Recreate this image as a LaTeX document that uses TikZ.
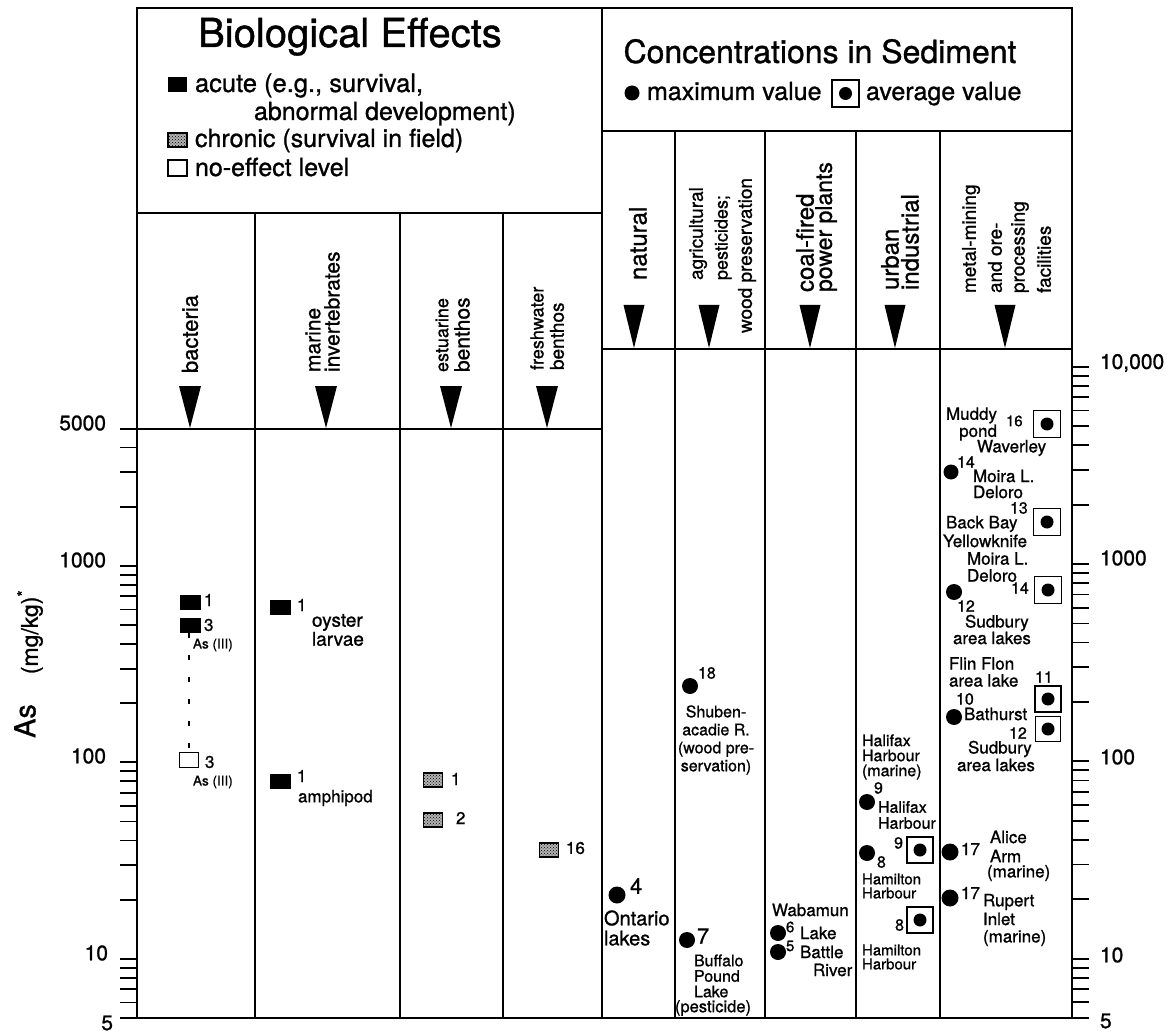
\documentclass[tikz,border=0pt]{standalone}
\usepackage{fontspec}
\setmainfont{TeX Gyre Heros}[FakeBold=1]
\usetikzlibrary{patterns}
\newcommand\fsz[2]{\fontsize{#1}{#2}\selectfont}
\begin{document}
\begin{tikzpicture}[x=1pt,y=-1pt,
 every node/.style={inner sep=0pt,outer sep=0pt},
 frm/.style={line width=2.2pt},
 dv/.style={line width=2pt},
 tk/.style={line width=1.8pt},
 acute/.style={rectangle,fill=black,minimum width=21pt,minimum height=15pt},
 chronic/.style={rectangle,draw=black,line width=1.5pt,fill=black!30,postaction={pattern=crosshatch dots},minimum width=19pt,minimum height=14pt},
 noeff/.style={rectangle,draw=black,line width=1.4pt,fill=white,minimum width=19pt,minimum height=15pt},
 maxd/.style={circle,fill=black,minimum size=16pt},
 avg/.style={rectangle,draw=black,line width=1.7pt,minimum size=26pt,path picture={\fill[black] (path picture bounding box.center) circle (6.5pt);}},
 hd/.style={rotate=90,anchor=west},
 lb/.style={anchor=west,font=\fsz{17}{16}},
 num/.style={anchor=west,font=\fsz{17}{17}},
 axl/.style={font=\fsz{21}{21}}
]
\fill[white] (0,0) rectangle (1168,1035);
\useasboundingbox (0,0) rectangle (1168,1035);

% frame
\draw[frm] (137,8) rectangle (1072,1018);
\draw[frm] (602,8) -- (602,1018);
\draw[dv] (137,213) -- (602,213);
\draw[dv] (602,131) -- (1072,131);
\draw[dv] (120,429) -- (602,429);
\draw[dv] (602,349) -- (1072,349);
\foreach \x in {255,400,503} \draw[dv] (\x,213) -- (\x,1018);
\foreach \x in {675,765,856,940} \draw[dv] (\x,131) -- (\x,1018);

% axis ticks
\foreach \v in {5000,4000,3000,2000,1000,900,800,700,600,500,400,300,200,100,90,80,70,60,50,40,30,20,10,9,8,7,6,5}
 {\pgfmathsetmacro\yy{1018-196.5*log10(\v/5)}\draw[tk] (120,\yy) -- (137,\yy);}
\foreach \v in {10000,9000,8000,7000,6000,5000,4000,3000,2000,1000,900,800,700,600,500,400,300,200,100,90,80,70,60,50,40,30,20,10,9,8,7,6,5}
 {\pgfmathsetmacro\yy{1018-197.3*log10(\v/5)}\draw[tk] (1072,\yy) -- (1089,\yy);}

% axis labels
\node[axl,anchor=east] (l5000) at (106,423) {5000};
\node[axl,anchor=east] (l1000) at (106,560) {1000};
\node[axl,anchor=east] (l100) at (106,756) {100};
\node[axl,anchor=east] (l10) at (108,953) {10};
\node[axl,anchor=east] (l5) at (113,1023) {5};
\node[axl,anchor=west] (r10000) at (1100,363) {10,000};
\node[axl,anchor=west] (r1000) at (1100,558) {1000};
\node[axl,anchor=west] (r100) at (1100,757) {100};
\node[axl,anchor=west] (r10) at (1100,955) {10};
\node[axl,anchor=west] (r5) at (1100,1021) {5};
\node[rotate=90,font=\fsz{29}{29}] (yas) at (25,721) {As};
\node[rotate=90,font=\fsz{23}{23}] (yunit) at (30,632) {(mg/kg)\textsuperscript{*}};

% header titles
\node[anchor=base,font=\fsz{40}{40}] (tbio) at (350,47) {Biological Effects};
\node[anchor=base,font=\fsz{32}{32}] (tconc) at (820,63) {Concentrations in Sediment};

% bio legend
\node[acute,minimum width=19pt] (kac) at (177.5,85) {};
\node[anchor=base west,font=\fsz{25.5}{25}] (kact) at (195,92) {acute (e.g., survival,};
\node[anchor=base west,font=\fsz{25}{25}] (kact2) at (254,120) {abnormal development)};
\node[chronic] (kch) at (177.5,140) {};
\node[anchor=base west,font=\fsz{25}{25}] (kcht) at (195,147) {chronic (survival in field)};
\node[noeff,minimum height=16pt] (kno) at (177.5,168) {};
\node[anchor=base west,font=\fsz{25}{25}] (knot) at (195,176) {no-effect level};

% conc legend
\node[circle,fill=black,minimum size=15pt] (kmax) at (632,93) {};
\node[anchor=base west,font=\fsz{25}{25}] (kmaxt) at (647,100) {maximum value};
\node[avg,minimum size=27pt] (kavg) at (845.5,93.5) {};
\node[anchor=base west,font=\fsz{25}{25}] (kavgt) at (866,100) {average value};

% pointers
\foreach \x in {190,326,451,547} \fill (\x-11,386) -- (\x+11,386) -- (\x,428) -- cycle;
\foreach \x in {634,709,810,895,1005} \fill (\x-10.5,305) -- (\x+10.5,305) -- (\x,348) -- cycle;

% bio column headings
\node[hd,font=\fsz{22}{22}] (hbac) at (190,373) {bacteria};
\node[hd,font=\fsz{21}{21}] (hmar1) at (313,372) {marine};
\node[hd,font=\fsz{21}{21}] (hmar2) at (332,372) {invertebrates};
\node[hd,font=\fsz{18}{18}] (hest1) at (442,372) {estuarine};
\node[hd,font=\fsz{21}{21}] (hest2) at (462,372) {benthos};
\node[hd,font=\fsz{18}{18}] (hfre1) at (537,370) {freshwater};
\node[hd,font=\fsz{19}{19}] (hfre2) at (557,370) {benthos};

% conc column headings
\node[hd,font=\fsz{24}{24}] (hnat) at (638,280) {natural};
\node[hd,font=\fsz{19}{19}] (hagr1) at (698,280) {agricultural};
\node[hd,font=\fsz{18}{18}] (hagr2) at (723,280) {pesticides;};
\node[hd,font=\fsz{19}{19}] (hagr3) at (747,333) {wood preservation};
\node[hd,font=\fsz{24}{24}] (hcoa1) at (805,292) {coal-fired};
\node[hd,font=\fsz{23}{23}] (hcoa2) at (826,292) {power plants};
\node[hd,font=\fsz{24}{24}] (hurb1) at (890,290) {urban};
\node[hd,font=\fsz{24}{24}] (hurb2) at (910,290) {industrial};
\node[hd,font=\fsz{19}{19}] (hmet1) at (971,293) {metal-mining};
\node[hd,font=\fsz{19}{19}] (hmet2) at (995,293) {and ore-};
\node[hd,font=\fsz{19}{19}] (hmet3) at (1020,293) {processing};
\node[hd,font=\fsz{19}{19}] (hmet4) at (1044,293) {facilities};

% bacteria
\node[acute] (b1) at (190,602) {};
\node[num] (b1n) at (204,600) {1};
\node[acute] (b3) at (190,625) {};
\node[num] (b3n) at (204,625) {3};
\node[anchor=west,font=\fsz{13.5}{13}] (b3s) at (193,645) {As (III)};
\node[noeff] (bn) at (189,760) {};
\draw[line width=1.3pt,dash pattern=on 5pt off 17pt] (b3.south -| bn.north) -- (bn.north);
\node[num] (bnn) at (205,762) {3};
\node[anchor=west,font=\fsz{13.5}{13}] (bns) at (193,782) {As (III)};

% marine invertebrates
\node[acute] (m1) at (280,607) {};
\node[num] (m1n) at (297,605) {1};
\node[anchor=west,align=left,font=\fsz{19}{16}] (m1t) at (312,630) {oyster\\larvae};
\node[acute] (m2) at (280,781) {};
\node[num] (m2n) at (297,776) {1};
\node[lb] (m2t) at (298,798) {amphipod};

% estuarine / freshwater
\node[chronic] (e1) at (433,780) {};
\node[num] (e1n) at (451,779) {1};
\node[chronic] (e2) at (433,820) {};
\node[num] (e2n) at (456,818) {2};
\node[chronic] (f16) at (549,850) {};
\node[num] (f16n) at (566,848) {16};

% natural
\node[maxd,minimum size=17pt] (n4) at (617,895) {};
\node[anchor=west,font=\fsz{22}{22}] (n4n) at (630,886) {4};
\node[anchor=west,align=left,font=\fsz{20}{20}] (n4t) at (604,928) {Ontario\\lakes};

% agricultural
\node[maxd] (a18) at (690,686) {};
\node[anchor=west,font=\fsz{16}{16}] (a18n) at (698,673) {18};
\node[align=center,font=\fsz{16}{18}] (a18t) at (716,740) {Shuben-\\acadie R.\\(wood pre-\\servation)};
\node[maxd] (a7) at (687,940) {};
\node[anchor=west,font=\fsz{22}{22}] (a7n) at (697,936) {7};
\node[anchor=west,align=left,font=\fsz{16}{15.5}] (a7t) at (694,976) {Buffalo\\Pound\\Lake};
\node[anchor=west,font=\fsz{16.5}{16}] (a7p) at (675,1008) {(pesticide)};

% coal-fired
\node[maxd] (c6) at (778,933) {};
\node[maxd] (c5) at (778,952) {};
\node[lb] (c6w) at (772,910) {Wabamun};
\node[anchor=west,font=\fsz{15}{15}] (c6n) at (786,927) {6};
\node[lb] (c6t) at (800,933) {Lake};
\node[anchor=west,font=\fsz{15}{15}] (c5n) at (786,946) {5};
\node[lb] (c5t) at (800,952) {Battle};
\node[lb] (c5r) at (813,970) {River};

% urban industrial
\node[anchor=west,align=left,font=\fsz{16}{15}] (u9t0) at (862,757) {Halifax\\Harbour\\(marine)};
\node[maxd] (u9) at (867,802) {};
\node[anchor=west,font=\fsz{16}{16}] (u9n) at (874,788) {9};
\node[anchor=west,align=left,font=\fsz{16}{16}] (u9t) at (878,815) {Halifax\\Harbour};
\node[maxd] (u8) at (867,853) {};
\node[anchor=west,font=\fsz{16}{16}] (u8n) at (877,862) {8};
\node[avg] (u9a) at (920,850) {};
\node[anchor=east,font=\fsz{16}{16}] (u9an) at (903,843) {9};
\node[anchor=west,align=left,font=\fsz{15}{14}] (u8t) at (862,886) {Hamilton\\Harbour};
\node[avg] (u8a) at (920,920) {};
\node[anchor=east,font=\fsz{16}{16}] (u8an) at (904,925) {8};
\node[anchor=west,align=left,font=\fsz{15}{14}] (u8at) at (862,957) {Hamilton\\Harbour};

% metal mining
\node[avg,minimum size=27pt] (k16) at (1047,424) {};
\node[anchor=west,font=\fsz{15}{15}] (k16n) at (1006,421) {16};
\node[anchor=east,align=right,font=\fsz{17}{13}] (k16t) at (997,424) {Muddy\\pond};
\node[lb] (k16w) at (977,448) {Waverley};
\node[maxd,minimum size=15pt] (k14) at (951,472) {};
\node[anchor=west,font=\fsz{16}{16}] (k14n) at (957,462) {14};
\node[anchor=west,align=left,font=\fsz{17}{16}] (k14t) at (973,484) {Moira L.\\Deloro};
\node[avg,minimum size=27pt] (k13) at (1047,522) {};
\node[anchor=west,font=\fsz{16}{16}] (k13n) at (1010,508) {13};
\node[lb] (k13t) at (946,524) {Back Bay};
\node[lb] (k13y) at (943,541) {Yellowknife};
\node[anchor=west,align=left,font=\fsz{17}{17}] (k14at) at (967,567) {Moira L.\\Deloro};
\node[avg,minimum size=27pt] (k14a) at (1048,590) {};
\node[anchor=west,font=\fsz{16}{16}] (k14an) at (1011,588) {14};
\node[maxd] (k12) at (954,592) {};
\node[anchor=west,font=\fsz{16}{16}] (k12n) at (957,606) {12};
\node[lb] (k12t) at (965,623) {Sudbury};
\node[lb] (k12a) at (953,638) {area lakes};
\node[anchor=west,align=left,font=\fsz{17}{17}] (k11t) at (949,672) {Flin Flon\\area lake};
\node[avg] (k11) at (1048,699) {};
\node[anchor=west,font=\fsz{16}{16}] (k11n) at (1035,677) {11};
\node[maxd] (k10) at (954,717) {};
\node[anchor=west,font=\fsz{16}{16}] (k10n) at (956,699) {10};
\node[lb] (k10t) at (964,714) {Bathurst};
\node[avg,minimum size=25pt] (k12a2) at (1048,729) {};
\node[anchor=west,font=\fsz{16}{16}] (k12an) at (1009,733) {12};
\node[lb] (k12at) at (968,749) {Sudbury};
\node[lb] (k12aa) at (957,765) {area lakes};
\node[maxd,minimum size=17pt] (k17a) at (950,852) {};
\node[num] (k17an) at (961,849) {17};
\node[lb] (k17at) at (990,837) {Alice};
\node[lb] (k17aa) at (990,856) {Arm};
\node[lb] (k17am) at (987,873) {(marine)};
\node[maxd,minimum size=17pt] (k17b) at (950,898) {};
\node[num] (k17bn) at (961,893) {17};
\node[lb] (k17bt) at (983,902) {Rupert};
\node[lb] (k17bi) at (983,919) {Inlet};
\node[lb] (k17bm) at (983,938) {(marine)};
\end{tikzpicture}
\end{document}
